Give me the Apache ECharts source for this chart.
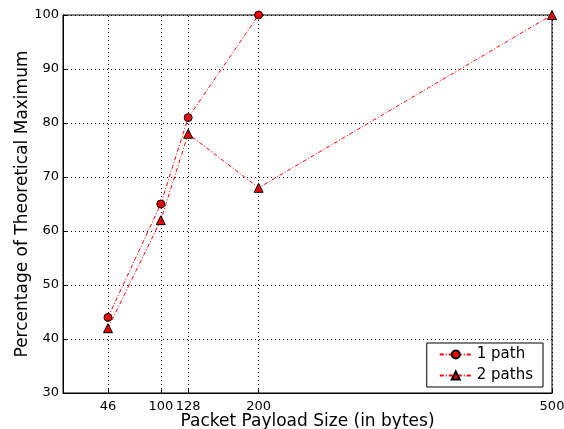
<!DOCTYPE html>
<html><head><meta charset="utf-8">
<script src="https://cdn.jsdelivr.net/npm/echarts@6/dist/echarts.min.js"></script>
<style>html,body{margin:0;padding:0;background:#fff}#c{width:564px;height:429px}</style>
</head><body><div id="c"></div>
<script>
const xTicks = [46, 100, 128, 200, 500];
const yTicks = [30, 40, 50, 60, 70, 80, 90, 100];
const sizes1 = [46, 100, 128, 200];
const path1 = [44, 65, 81, 100];
const sizes2 = [46, 100, 128, 200, 500];
const path2 = [42, 62, 78, 68, 100];

const font = 'DejaVu Sans';
const chart = echarts.init(document.getElementById('c'));
const lineStyle = {color: '#ff0000', width: 1, type: [4, 2, 1, 2]};
chart.setOption({
  animation: false,
  textStyle: {fontFamily: font},
  grid: {left: 63, right: 12, top: 15, bottom: 36, outerBoundsMode: 'none', containLabel: false,
    show: true, borderColor: '#000', borderWidth: 1, backgroundColor: 'transparent'},
  xAxis: {
    type: 'value', min: 0, max: 500,
    name: 'Packet Payload Size (in bytes)', nameLocation: 'middle', nameGap: 20, nameMoveOverlap: false,
    nameTextStyle: {fontSize: 17, color: '#000', fontFamily: font},
    axisLine: {show: true, lineStyle: {color: '#000'}},
    axisTick: {show: true, inside: true, length: 5, customValues: xTicks, lineStyle: {color: '#000'}},
    axisLabel: {customValues: xTicks, color: '#000', fontSize: 13, fontFamily: font, margin: 7},
    splitLine: {show: false}
  },
  yAxis: {
    type: 'value', min: 30, max: 100, interval: 10,
    name: 'Percentage of Theoretical Maximum', nameLocation: 'middle', nameGap: 32, nameMoveOverlap: false,
    nameTextStyle: {fontSize: 17, color: '#000', fontFamily: font},
    axisLine: {show: true, lineStyle: {color: '#000'}},
    axisTick: {show: true, inside: true, length: 5, lineStyle: {color: '#000'}},
    axisLabel: {color: '#000', fontSize: 13, fontFamily: font, margin: 4},
    splitLine: {show: true, lineStyle: {color: '#000', type: [1, 3], width: 1}}
  },
  legend: {
    right: 21, bottom: 42, orient: 'vertical',
    borderColor: '#000', borderWidth: 1, backgroundColor: '#fff', borderRadius: 0,
    padding: [4, 10, 4, 12], itemGap: 6, itemWidth: 32, itemHeight: 10,
    textStyle: {fontSize: 15, color: '#000', fontFamily: font},
    data: ['1 path', '2 paths']
  },
  series: [
    {
      name: '1 path', type: 'line', data: sizes1.map((x, i) => [x, path1[i]]),
      symbol: 'circle', symbolSize: 8, lineStyle: lineStyle,
      itemStyle: {color: '#ff0000', borderColor: '#000', borderWidth: 1}, z: 3,
      markLine: {
        silent: true, symbol: 'none', label: {show: false},
        lineStyle: {color: '#000', type: [1, 3], width: 1},
        data: xTicks.map(v => ({xAxis: v}))
      }
    },
    {
      name: '2 paths', type: 'line', data: sizes2.map((x, i) => [x, path2[i]]),
      symbol: 'triangle', symbolSize: 9, lineStyle: lineStyle,
      itemStyle: {color: '#ff0000', borderColor: '#000', borderWidth: 1}, z: 3
    }
  ]
});
</script></body></html>
